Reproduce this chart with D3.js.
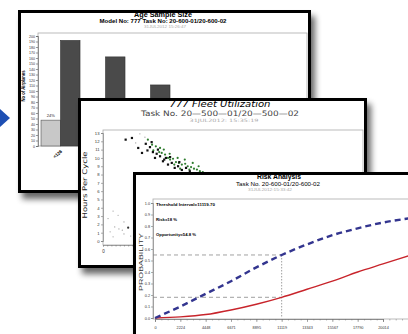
<!DOCTYPE html>
<html><head><meta charset="utf-8">
<script src="https://cdn.jsdelivr.net/npm/d3@7"></script>
<style>html,body{margin:0;padding:0;background:#fff;overflow:hidden}</style>
</head><body><svg id="c" width="408" height="334"></svg>
<script>
// ---------- DATA ----------
// Panel 1: Age Sample Size
const ageCategories = ["<126", "126-150", "151-175", "176-200", "201-225", ">225"];
const ageShareValues = [47, 38, 30, 22, 14, 8];
const ageCountValues = [192, 162, 111, 62, 34, 12];
const ageTicks = d3.range(0, 201, 10);
const ageShareLabels = ["24%"];

// Panel 2: 777 Fleet Utilization (flight hours vs hours per cycle)
const fleetLowHours = [600, 1200, 1800, 1400, 2300, 2500, 850, 1200, 3000, 2500, 3300, 1900, 3700];
const fleetLowHpc   = [2.7, 3.6, 3.1, 1.7, 1.3, 2.3, 1.1, 0.5, 1.6, 0.85, 0.6, 1.45, 1.3];
const fleetBlackHours = [2700, 3450, 4200, 4650, 5100, 5600, 5950, 6200, 6550, 6800, 7150, 7500, 7750, 8200, 8550, 8950, 9400, 9900, 10350, 5300, 6400, 7300, 5800, 8000, 9100];
const fleetBlackHpc   = [12.2, 12.4, 11.2, 10.6, 11.7, 11.3, 10.7, 10.0, 11.0, 10.2, 9.6, 10.0, 9.2, 9.4, 8.8, 9.0, 8.55, 8.8, 8.4, 10.9, 10.5, 9.8, 11.9, 10.1, 9.5];
const fleetGreenHours = [5350, 5850, 6300, 6700, 7000, 7400, 7750, 8000, 8350, 8700, 9050, 9400, 9800, 10100, 10500, 10850, 11200, 11550, 11900, 6800, 7250, 7950, 8900, 9750, 10700, 11400, 6000, 8500, 9200, 10300];
const fleetGreenHpc   = [12.2, 11.6, 11.4, 10.7, 10.6, 10.4, 10.0, 9.8, 9.9, 9.5, 9.4, 9.2, 9.3, 9.0, 8.9, 8.7, 8.6, 8.4, 8.3, 11.2, 11.0, 10.5, 10.0, 9.8, 9.4, 9.0, 10.9, 9.2, 8.7, 8.6];
const fleetStray = [[4400, 12.9], [3900, 11.8], [5000, 12.5]];
const fleetTicks = d3.range(0, 14, 1);

// Panel 3: Risk Analysis
const riskInterval = [0, 2224, 4448, 6671, 8895, 11119, 13343, 15567, 17790, 20014, 22238];
const opportunityValues = [0.0, 0.10, 0.21, 0.32, 0.44, 0.548, 0.64, 0.72, 0.78, 0.83, 0.865];
const riskValues = [0.0, 0.01, 0.03, 0.07, 0.12, 0.18, 0.25, 0.32, 0.40, 0.47, 0.54];
const riskXTicks = [0, 2224, 4448, 6671, 8895, 11119, 13343, 15567, 17790, 20014];
const riskYTicks = [0, 0.1, 0.2, 0.3, 0.4, 0.5, 0.6, 0.7, 0.8, 0.9, 1.0];
const thresholdInterval = 11119;
const riskAtThreshold = 0.18;
const opportunityAtThreshold = 0.548;
const riskNotes = ["Threshold Interval=11119.70", "Risk=18 %", "Opportunity=54.8 %"];

// ---------- DRAWING ----------
const FONT = "'Liberation Sans', Arial, sans-serif";
const svg = d3.select("#c");
const defs = svg.append("defs");
const flt = defs.append("filter").attr("id", "sh").attr("x", "-20%").attr("y", "-20%").attr("width", "140%").attr("height", "140%");
flt.append("feGaussianBlur").attr("stdDeviation", 3);

function txt(g, x, y, s, size, o = {}) {
  const t = g.append("text").attr("x", x).attr("y", y).text(s)
    .attr("font-family", o.family || FONT).attr("font-size", size)
    .attr("text-anchor", o.anchor || "middle")
    .attr("font-weight", o.weight || "normal")
    .attr("fill", o.fill || "#000");
  if (o.style) t.attr("font-style", o.style);
  if (o.len) t.attr("textLength", o.len).attr("lengthAdjust", "spacingAndGlyphs");
  if (o.transform) t.attr("transform", o.transform);
  return t;
}

function panel(x, y, w, h, id) {
  svg.append("rect").attr("x", x + 4).attr("y", y + 6).attr("width", w).attr("height", h)
    .attr("fill", "#000").attr("opacity", 0.6).attr("filter", "url(#sh)");
  const g = svg.append("g");
  defs.append("clipPath").attr("id", id).append("rect").attr("x", x).attr("y", y).attr("width", w).attr("height", h);
  g.append("rect").attr("x", x).attr("y", y).attr("width", w).attr("height", h).attr("fill", "#fff");
  const inner = g.append("g").attr("clip-path", `url(#${id})`);
  const border = () => g.append("rect").attr("x", x + 1.5).attr("y", y + 1.5).attr("width", w - 3).attr("height", h - 3)
    .attr("fill", "none").attr("stroke", "#000").attr("stroke-width", 3);
  return { g, inner, border };
}

// blue arrow
svg.append("path").attr("d", "M0,109 L10,118 L0,127 Z").attr("fill", "#1d4fb3");

// ===== Panel 1 =====
{
  const P = panel(18, 10, 293, 183, "p1");
  const g = P.inner;
  txt(g, 163, 16.5, "Age Sample Size", 7.5, { weight: "bold", len: 58 });
  txt(g, 163, 22.5, "Model No: 777   Task No: 20-600-01/20-600-02", 5.5, { weight: "bold", len: 127 });
  txt(g, 165, 27.5, "31JUL2012 15:26:47", 4, { fill: "#aaa", len: 42 });

  const x0 = d3.scaleBand().domain(ageCategories).range([38, 308]).paddingInner(0.133).paddingOuter(0.067);
  const x1 = d3.scaleBand().domain(["share", "count"]).range([0, x0.bandwidth()]);
  const y = d3.scaleLinear().domain([0, 200]).range([146, 36]);

  g.append("rect").attr("x", 38).attr("y", 33).attr("width", 269).attr("height", 113)
    .attr("fill", "none").attr("stroke", "#aaa").attr("stroke-width", 0.8);

  const ax = g.append("g").attr("transform", "translate(38,0)")
    .call(d3.axisLeft(y).tickValues(ageTicks).tickSize(2).tickPadding(1));
  ax.selectAll("text").attr("font-size", 3.6).attr("font-family", FONT).attr("fill", "#333");
  ax.selectAll("line,path").attr("stroke", "#555").attr("stroke-width", 0.6);

  const groups = g.append("g").selectAll("g").data(ageCategories).join("g")
    .attr("transform", d => `translate(${x0(d)},0)`);
  groups.append("rect").attr("x", x1("share")).attr("width", x1.bandwidth())
    .attr("y", (d, i) => y(ageShareValues[i])).attr("height", (d, i) => y(0) - y(ageShareValues[i]))
    .attr("fill", "#c8c8c8").attr("stroke", "#555").attr("stroke-width", 0.6);
  groups.append("rect").attr("x", x1("count")).attr("width", x1.bandwidth())
    .attr("y", (d, i) => y(ageCountValues[i])).attr("height", (d, i) => y(0) - y(ageCountValues[i]))
    .attr("fill", "#4a4a4a").attr("stroke", "#333").attr("stroke-width", 0.6);
  ageShareLabels.forEach((s, i) => {
    txt(g, x0(ageCategories[i]) + x1("share") + x1.bandwidth() / 2, y(ageShareValues[i]) - 3, s, 4, { fill: "#222" });
  });
  ageCategories.forEach(c => {
    const cx = x0(c) + x0.bandwidth() / 2 + 2;
    txt(g, 0, 0, c, 4.5, { anchor: "end", weight: "bold", transform: `translate(${cx},152) rotate(-40)` });
  });
  txt(g, 0, 0, "No of Airplanes", 4.6, { weight: "bold", len: 31, transform: "translate(24.5,86) rotate(-90)" });
  P.border();
}

// ===== Panel 2 =====
{
  const P = panel(78, 98, 289, 170, "p2");
  const g = P.inner;
  const F2 = "'DejaVu Sans', sans-serif";
  txt(g, 220, 107, "777 Fleet Utilization", 8.5, { style: "italic", family: F2, len: 101 });
  txt(g, 220, 116, "Task No. 20—500—01/20—500—02", 7.5, { family: F2, fill: "#444", len: 158 });
  txt(g, 224, 122, "31JUL2012: 15:35:19", 4.5, { family: F2, fill: "#aaa", len: 69 });

  const x = d3.scaleLinear().domain([0, 31000]).range([103, 363]);
  const y = d3.scaleLinear().domain([0, 13]).range([241, 133]);
  g.append("rect").attr("x", 103).attr("y", 130).attr("width", 260).attr("height", 115)
    .attr("fill", "none").attr("stroke", "#aaa").attr("stroke-width", 0.8);
  const ay = g.append("g").attr("transform", "translate(103,0)")
    .call(d3.axisLeft(y).tickValues(fleetTicks).tickSize(2).tickPadding(1.5));
  ay.selectAll("text").attr("font-size", 4.2).attr("font-family", FONT).attr("fill", "#333");
  ay.selectAll("line,path").attr("stroke", "#777").attr("stroke-width", 0.6);
  const axx = g.append("g").attr("transform", "translate(0,245)")
    .call(d3.axisBottom(x).tickValues(d3.range(0, 31000, 500)).tickSize(1.5).tickFormat(d => d === 0 ? "0" : ""));
  axx.selectAll("text").attr("font-size", 4.5).attr("font-family", FONT).attr("fill", "#333");
  axx.selectAll("line,path").attr("stroke", "#777").attr("stroke-width", 0.6);
  txt(g, 0, 0, "Hours Per Cycle", 6.5, { family: F2, fill: "#222", len: 67, transform: "translate(87,185) rotate(-90)" });

  g.append("g").selectAll("circle").data(fleetLowHours).join("circle")
    .attr("cx", d => x(d)).attr("cy", (d, i) => y(fleetLowHpc[i])).attr("r", (d, i) => i === 8 ? 1.1 : 0.6)
    .attr("fill", (d, i) => i === 8 ? "#333" : "#999");
  g.append("g").selectAll("circle").data(fleetStray).join("circle")
    .attr("cx", d => x(d[0])).attr("cy", d => y(d[1])).attr("r", 0.6).attr("fill", "#999");
  g.append("g").selectAll("circle").data(fleetGreenHours).join("circle")
    .attr("cx", d => x(d)).attr("cy", (d, i) => y(fleetGreenHpc[i])).attr("r", 1.1).attr("fill", "#2f7d2f");
  g.append("g").selectAll("rect").data(fleetBlackHours).join("rect")
    .attr("x", d => x(d) - 1.1).attr("y", (d, i) => y(fleetBlackHpc[i]) - 1.1).attr("width", 2.2).attr("height", 2.2).attr("fill", "#111");
  P.border();
}

// ===== Panel 3 =====
{
  const P = panel(133, 172, 320, 200, "p3");
  const g = P.inner;
  txt(g, 279, 178.5, "Risk Analysis", 7, { weight: "bold", len: 44 });
  txt(g, 278, 185.5, "Task No. 20-600-01/20-600-02", 5.3, { len: 84 });
  txt(g, 270, 191, "31JUL2012:15:33:42", 4, { fill: "#aaa", len: 44 });

  const x = d3.scaleLinear().domain([0, 20014]).range([155, 383]);
  const y = d3.scaleLinear().domain([0, 1]).range([318, 203]);

  g.append("rect").attr("x", 153).attr("y", 199).attr("width", 300).attr("height", 120)
    .attr("fill", "none").attr("stroke", "#aaa").attr("stroke-width", 0.8);
  const ay = g.append("g").attr("transform", "translate(153,0)")
    .call(d3.axisLeft(y).tickValues(riskYTicks).tickSize(2).tickPadding(1).tickFormat(d3.format(".1f")));
  ay.selectAll("text").attr("font-size", 3.8).attr("font-family", FONT).attr("fill", "#333");
  ay.selectAll("line,path").attr("stroke", "#777").attr("stroke-width", 0.6);
  const minor = g.append("g").attr("transform", "translate(0,319)")
    .call(d3.axisBottom(x).tickValues(d3.range(0, 22300, 556)).tickSize(1.5).tickFormat(""));
  minor.selectAll("line,path").attr("stroke", "#777").attr("stroke-width", 0.5);
  const axx = g.append("g").attr("transform", "translate(0,319)")
    .call(d3.axisBottom(x).tickValues(riskXTicks).tickSize(3).tickPadding(4).tickFormat(d3.format("d")));
  axx.selectAll("text").attr("font-size", 3.8).attr("font-family", FONT).attr("fill", "#333");
  axx.selectAll("line,path").attr("stroke", "#777").attr("stroke-width", 0.6);
  txt(g, 0, 0, "PROBABILITY", 4.5, { fill: "#333", len: 58, transform: "translate(143,262) rotate(-90)" });

  riskNotes.forEach((s, i) => txt(g, 156, [206, 221, 236][i], s, 4.4, { anchor: "start", weight: "bold", len: [59, 21, 40][i] }));

  const dash = { stroke: "#888", "stroke-width": 0.8, "stroke-dasharray": "4,3" };
  const ln = (x1, y1, x2, y2) => { const l = g.append("line").attr("x1", x1).attr("y1", y1).attr("x2", x2).attr("y2", y2); Object.entries(dash).forEach(([k, v]) => l.attr(k, v)); };
  ln(153, y(opportunityAtThreshold), x(thresholdInterval), y(opportunityAtThreshold));
  ln(153, y(riskAtThreshold), x(thresholdInterval), y(riskAtThreshold));
  g.append("line").attr("x1", x(thresholdInterval)).attr("x2", x(thresholdInterval))
    .attr("y1", y(opportunityAtThreshold)).attr("y2", y(0)).attr("stroke", "#888").attr("stroke-width", 0.8).attr("stroke-dasharray", "1.5,1.5");

  const line = vals => d3.line().x((d, i) => x(riskInterval[i])).y(d => y(d)).curve(d3.curveMonotoneX)(vals);
  g.append("path").attr("d", line(riskValues)).attr("fill", "none").attr("stroke", "#c8242b").attr("stroke-width", 1.4);
  g.append("path").attr("d", line(opportunityValues)).attr("fill", "none").attr("stroke", "#33358f").attr("stroke-width", 2.4).attr("stroke-dasharray", "6,4");
  P.border();
}
</script></body></html>
